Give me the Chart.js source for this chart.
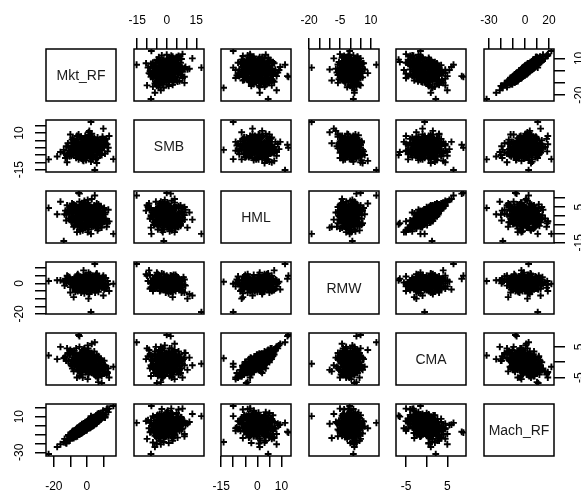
<!DOCTYPE html>
<html>
<head>
<meta charset="utf-8">
<script src="https://cdn.jsdelivr.net/npm/chart.js@4.4.0/dist/chart.umd.min.js"></script>
<style>
html, body { margin: 0; padding: 0; background: #fff; overflow: hidden; }
#wrap { position: relative; width: 581px; height: 493px; }
canvas { position: absolute; }
</style>
</head>
<body>
<div id="wrap"></div>
<script>
// variable names, in pairs() order
const varNames = ['Mkt_RF', 'SMB', 'HML', 'RMW', 'CMA', 'Mach_RF'];

// monthly returns (%), one entry per observation, same order in every array
const mktRF = [
    0.5, -2.1, 3.4, 1.8, -4.6, 5.2, -0.9, 2.7, -6.3, 4.1,
    -1.5, 0.2, 7.4, -3.3, 2.2, -8.1, 1.1, -0.4, 6.0, -5.4,
    3.0, -2.8, 0.9, 4.8, -1.2, 8.6, -7.0, 2.5, -3.9, 0.0,
    5.7, -0.7, 1.5, -9.5, 3.7, -2.4, 0.7, 6.9, -4.2, 2.0,
    -1.8, 9.8, -6.7, 1.3, -0.1, 4.4, -3.0, 0.4, -11.2, 3.2,
    -1.0, 7.9, -5.0, 2.9, 0.6, -2.6, 5.0, -0.3, 1.7, -8.8,
    3.9, -1.6, 0.1, 11.0, -3.6, 2.4, -0.6, 6.4, -4.9, 1.0,
    -2.0, 4.6, -7.6, 0.3, 2.1, -1.4, 8.2, -5.8, 3.5, -0.8,
    1.9, -2.3, 5.5, -10.3, 0.8, -3.1, 2.6, -0.2, 4.0, -6.0,
    1.4, -1.9, 7.1, -4.4, 0.9, 3.3, -2.9, 1.6, -12.4, 5.9,
    -0.5, 2.3, -1.1, 9.1, -3.8, 0.0, 3.6, -5.2, 1.2, -0.9,
    6.6, -2.2, 4.3, -7.3, 0.5, 2.8, -1.3, 12.3, -9.0, 1.0,
    -23.2, 16.1, 2.5, 4.8, -14.0, 9.0, 7.0, -5.0, -4.5, -18.0,
    -13.0, 12.0, 13.5, -10.0, 10.0, -16.0, 1.0, -2.0, 3.0, -6.0,
    11.0, -8.0, 6.0, 1.5, -12.0,
    7.5, -9.0, 4.0, -3.5, 10.5, -6.5, 1.5, 0.8, -11.5, 5.5,
    -2.5, 8.5, -7.5, 3.0, -0.5, 12.5, -4.5, 6.5, -8.5, 2.0,
    -1.5, 9.5, -5.5, 0.5, -13.5, 4.5, -2.0, 7.0, -6.0, 1.0,
    -10.0, 11.5, -3.0, 5.0, -0.8, 3.5, -7.0, 8.0, -4.0, 2.5,
    -1.0, 6.0, -9.5, 0.0, 4.0, -5.0, 9.0, -2.0, 1.5, -8.0,
    5.5, -3.0, 13.0, -6.0, 2.0, -1.5, 7.5, -11.0, 3.0, -4.5,
    0.5, 6.0, -7.0, 10.0, -2.5, 4.5, -5.5, 1.0, -9.0, 7.0,
    -3.5, 3.5, -1.0, 8.0, -6.5, 2.5, -4.0, 5.0, -12.5, 0.0,
    4.0, -8.5, 6.5, -2.0, 1.5, 9.5, -5.0, 3.0, -3.0, 6.0,
    -7.5, 0.5, 11.0, -4.5, 2.0, -10.5, 5.0, -1.5, 7.5, -5.5,
    3.5, -0.5, 8.5, -8.0, 1.0, -3.5, 5.5, -6.0, 4.5, -2.5,
    10.0, -4.0, 0.0, 6.5, -9.5, 2.5, -1.0, 7.0, -5.5, 3.0
];
const smb = [
    1.2, -1.4, 2.6, -0.5, -2.7, 0.8, 3.1, -2.2, -0.8, 3.9,
    -3.6, 0.1, 2.1, 1.6, 4.8, -3.0, -1.9, 0.6, 5.3, -1.1,
    0.4, -4.7, 2.0, 1.5, -0.2, 3.4, 0.9, -3.1, 2.8, -1.0,
    -1.6, 6.2, 1.0, -4.2, 0.0, 0.3, -4.0, 4.4, -0.6, 2.4,
    1.8, 0.5, -5.3, 0.2, -2.5, 6.0, -0.4, 3.7, -2.0, -0.9,
    1.3, -0.3, 4.0, -5.5, 0.7, -2.9, 2.9, -1.3, 5.6, -1.5,
    1.9, -6.1, 2.3, 4.9, -2.3, 0.9, -0.7, -2.6, 2.5, -3.4,
    0.0, 3.0, -3.8, 1.4, -1.7, 4.5, 1.1, -1.8, -4.4, 0.4,
    3.3, -0.1, 0.3, -3.3, -2.1, 1.0, 7.2, -0.5, -2.8, 1.7,
    0.8, -3.9, 2.7, 0.2, -0.8, 4.2, -1.2, -4.8, -5.0, 1.6,
    2.2, -0.6, 0.5, 5.8, -2.4, 1.5, -1.4, -4.6, 3.6, -2.0,
    0.6, 3.4, -0.2, -0.7, -1.1, 2.0, 0.9, 2.3, 1.2, 0.1,
    -8.0, -7.8, 17.6, -15.3, -1.5, -5.0, -3.0, 0.0, 2.0, -6.0,
    -7.0, 6.0, 8.0, 9.0, 13.0, -3.0, 10.5, -9.0, 4.0, -2.0,
    -4.0, 3.0, -10.5, 11.5, -10.0,
    -3.0, 5.5, -6.5, 7.0, 1.5, -7.0, 8.5, -2.0, 3.0, -8.0,
    4.5, 5.0, 0.5, 9.5, -8.5, -2.5, -5.5, 2.5, 6.5, -4.5,
    1.0, 7.5, -3.5, 6.0, -4.0, 3.5, -6.0, -1.0, 8.0, -1.5,
    -2.5, 3.0, -7.5, 5.5, -3.0, 2.0, 4.0, -5.0, 1.5, -9.5,
    5.0, 0.5, -5.5, 3.0, -3.5, 9.0, -1.5, -4.0, 6.5, -1.0,
    4.5, -2.0, 0.0, 3.5, -7.0, 2.5, -3.5, 0.0, 7.5, -6.5,
    4.0, -2.5, 2.0, 6.0, -8.5, 1.0, 5.5, -5.0, -3.5, 3.0,
    0.5, -6.0, 8.0, -4.5, 1.5, 5.0, -3.0, 2.0, 1.0, -6.5,
    4.5, -4.5, 7.0, 3.5, -3.5, 0.5, -8.0, 2.5, 6.0, -5.5,
    2.5, -1.0, 5.5, -4.5, 9.0, -6.0, -0.5, 4.0, 4.0, -1.5,
    -8.0, 1.5, -2.0, 5.0, -4.0, 7.5, -1.5, -5.0, 6.5, -2.5,
    2.0, 0.0, 7.0, -7.0, 3.5, -1.0, -5.5, 1.5, 0.5, 3.0
];
const hml = [
    -0.8, 2.3, -1.9, 0.7, 1.1, -3.2, 0.4, 2.9, -1.5, 1.2,
    -2.4, 3.8, -0.6, -3.7, -1.1, 2.0, -0.3, 1.7, -2.1, 4.6,
    0.1, 0.9, -4.4, 2.4, -1.0, -4.0, 0.2, -2.7, 3.3, 0.5,
    1.0, -2.0, 5.2, -0.4, -0.9, -5.1, 1.4, 0.3, -1.3, 2.1,
    0.0, -1.4, 3.0, -2.9, 2.6, -0.2, 1.8, -1.7, 2.7, 0.6,
    -3.4, -2.5, 0.8, 1.6, 6.3, -1.8, 1.5, -0.6, 0.9, -2.2,
    -5.8, 0.4, 1.9, -3.0, 5.5, -1.5, 3.1, -0.7, -2.6, -4.1,
    1.0, -0.1, 4.1, -2.3, 3.5, 0.6, 0.8, -0.5, -1.2, -6.2,
    4.3, -0.8, 2.8, 1.3, -3.0, 2.2, -2.6, 0.2, -3.9, 1.9,
    -0.4, 4.9, -1.6, -0.2, 1.1, 0.5, -4.6, 2.5, 0.7, -3.5,
    2.0, -0.5, -1.9, -0.9, 3.7, -1.2, 1.3, -2.8, 3.0, -2.1,
    1.7, -0.7, -2.2, 5.9, 0.8, -4.8, 1.5, -2.9, -1.0, 0.3,
    4.5, -10.0, -10.0, 11.5, -14.0, -4.6, -4.0, 12.9, 12.5, 1.0,
    3.0, -6.0, -3.0, 5.0, -2.0, 8.0, -6.5, 7.0, 9.5, -9.0,
    2.0, -6.0, 3.0, 2.0, 6.0,
    2.5, -3.5, -5.0, 6.0, 4.5, -2.0, 1.0, 7.5, 3.5, -6.5,
    -7.0, 5.0, -5.5, 3.5, -1.5, -4.0, 8.0, -8.0, 1.5, 4.0,
    -6.0, 2.0, -4.5, 5.5, 1.0, -2.5, 3.0, 6.5, -1.0, -7.5,
    4.5, -1.5, 2.0, -5.5, 6.5, 3.0, -3.0, 1.5, -8.5, 5.0,
    -4.0, 7.0, -3.0, 2.5, -3.5, 0.5, -6.5, 5.5, -3.0, 6.5,
    0.5, -6.5, 3.5, 3.0, -1.0, 8.5, -3.5, -1.5, 4.0, -5.0,
    -9.0, 4.5, 0.0, -3.0, 3.5, 6.0, -6.0, 1.0, 7.0, -2.0,
    4.0, -4.5, 2.5, -5.5, 5.5, -1.0, 0.0, 3.0, -2.5, -3.5,
    5.0, 2.5, -4.5, -5.0, 6.0, 0.5, -0.5, -6.0, 4.5, 2.5,
    -3.5, 9.0, 1.0, -7.5, -2.0, 3.0, -4.0, 7.5, 4.5, -4.0,
    0.5, -4.5, 5.5, 0.0, -5.5, 2.0, 3.5, -2.5, 1.5, -8.0,
    3.0, 6.5, -5.5, 0.0, 5.0, -2.5, 4.0, -7.0, 2.0, 0.0
];
const rmw = [
    0.3, 1.0, -1.2, 0.9, 1.8, -0.7, -1.6, 1.7, 0.2, -2.3,
    1.4, 0.8, -1.0, -1.1, -2.9, 2.2, 0.6, -0.2, -2.0, 1.2,
    -0.5, 2.6, -1.9, -0.1, 0.0, -1.5, -0.8, 1.1, -0.6, 1.9,
    0.5, -3.5, 1.3, 1.6, -1.4, -0.3, 2.0, -2.6, 0.7, -1.3,
    -0.4, 0.4, 2.9, -0.9, 1.5, -3.0, -1.8, -2.2, 0.9, 0.1,
    -0.7, 0.8, -2.4, 3.3, 0.9, 0.4, -1.7, 1.0, -2.8, 0.3,
    -1.6, 2.7, -1.0, -2.1, 1.4, 0.2, 0.5, 1.8, -1.2, 1.2,
    0.3, -0.9, 1.1, -1.3, 2.4, -2.5, -0.2, 1.3, 2.1, -0.5,
    -1.9, -1.5, 0.6, 2.5, 0.1, -0.1, -3.9, 0.7, 1.6, -1.4,
    -0.6, 2.3, -1.1, 0.6, -2.0, -1.7, -0.2, 3.0, 1.9, -0.4,
    -1.2, 1.4, -0.8, -2.7, 0.2, 0.4, -0.3, 1.7, -1.6, 0.9,
    -0.3, -2.3, 0.5, 2.0, -0.1, -1.3, 1.1, -1.0, -0.9, 0.2,
    1.5, -0.3, -18.8, 12.7, 1.0, 2.0, 3.0, 5.0, 3.0, 2.0,
    3.0, -3.0, -5.0, -6.0, -8.0, 2.0, -10.0, 8.5, -4.0, -2.0,
    3.5, -9.0, 6.0, -7.0, 5.0,
    3.8, 1.0, -2.5, 2.0, -4.0, -4.5, 4.0, -3.5, 4.5, 0.5,
    -5.0, 2.5, 3.5, -1.5, 5.5, 1.5, -2.0, 4.5, -3.0, 6.0,
    -6.5, -2.5, 4.0, 3.0, -1.5, -4.5, -3.0, 3.0, 1.5, 2.0,
    -2.5, 3.5, 1.0, -3.5, -1.0, 5.0, -4.0, -1.0, 2.5, 1.5,
    4.5, -4.5, 0.5, -5.5, 4.0, -1.0, -2.0, 3.5, 1.0, -2.5,
    5.5, -4.0, -0.5, 5.0, -5.0, 0.0, -3.5, 3.0, 2.5, -1.5,
    0.5, 6.5, -5.5, 0.0, -3.5, -2.5, 2.0, 7.0, 1.0, -5.5,
    4.0, -1.5, -4.0, 2.0, -2.0, 3.5, -4.5, 1.5, 0.0, 3.0,
    -3.0, 2.5, -1.0, 5.5, -5.0, 4.0, 1.5, -2.0, -3.5, 2.5,
    -1.5, 1.0, -3.5, 0.0, 2.5, 4.0, -6.0, 2.5, 0.0, 6.0,
    -2.5, -2.5, 1.0, 2.0, 4.5, -6.0, 4.5, -3.0, 0.5, -0.5,
    5.0, -4.5, 0.0, 1.0, 1.5, -4.0, 5.0, -1.0, -5.0, 3.0
];
const cma = [
    0.8, -0.3, 0.6, -1.5, 1.9, -0.6, -1.6, 2.6, -1.3, 2.1,
    -2.3, 1.1, 0.5, -3.1, 1.2, -0.2, -1.8, 2.5, -2.8, 0.6,
    1.0, -0.9, -0.5, -1.2, -1.3, -1.5, 2.4, -2.7, 2.9, -1.9,
    1.6, 0.6, 0.7, -1.0, -2.4, 0.1, -1.3, 1.4, -1.7, 2.2,
    1.4, -3.1, 0.4, -2.8, -1.0, 1.8, 2.7, -2.5, 0.3, -2.2,
    1.0, -3.0, 2.3, -1.5, 2.0, 0.9, -2.0, 1.9, 1.2, -2.1,
    -1.4, -1.4, 2.7, -1.0, 1.2, 1.0, 2.6, -2.5, 1.3, -3.3,
    -1.8, 1.6, 3.7, 0.9, -0.6, -1.3, 1.0, -1.6, -2.4, -1.1,
    3.0, 1.7, -1.6, 2.6, -2.7, -0.6, 0.5, -1.8, -0.7, -0.9,
    1.9, 1.0, -2.6, 2.5, -1.6, 1.7, -3.2, -1.2, 0.5, 0.1,
    -1.2, 1.7, -2.4, 0.6, 0.2, 1.9, -2.2, 1.5, 2.9, -3.2,
    1.5, -1.9, -2.5, 1.0, 2.8, -0.6, -1.8, -3.2, -1.3, 2.2,
    2.2, -1.5, -0.5, 6.5, 1.3, -6.8, -6.5, 8.9, 8.5, 1.0,
    2.0, -4.0, -5.0, 3.0, -1.0, 5.0, -2.5, 4.0, 6.0, -5.0,
    -3.5, -3.0, 1.0, 1.5, 4.5,
    -0.5, 0.8, -3.5, 1.5, 0.5, -0.5, 1.0, 4.5, 3.0, -4.5,
    -2.5, 0.0, -1.0, 3.0, -2.0, -3.5, 5.0, -5.0, 2.5, 1.5,
    -1.5, -2.0, -2.5, 3.5, 1.5, -4.0, 3.5, 2.0, -0.5, -4.0,
    4.0, -1.5, 0.5, -3.0, 2.5, 0.0, 0.0, -3.0, -3.5, 2.0,
    -1.0, 2.5, -0.5, 1.5, -1.5, 1.5, -4.5, 4.0, -2.5, 3.0,
    -1.0, -4.0, -2.0, 2.0, 0.5, 4.5, -2.5, 0.5, 0.5, -1.5,
    -5.5, 1.0, 1.0, -3.0, 2.5, 3.5, -3.0, -1.5, 3.5, -2.5,
    1.0, -2.0, 0.5, -4.0, 4.5, -0.5, 0.0, -0.5, 0.5, -2.0,
    2.0, 1.5, -3.5, -2.0, 3.0, -2.5, -1.0, -3.5, 2.5, -0.5,
    -1.5, 5.5, -1.5, -4.5, -1.0, 2.5, -2.0, 4.0, 0.5, -2.5,
    1.0, -3.0, 1.0, 0.5, -2.5, 1.0, 1.5, -0.5, -0.5, -5.0,
    -1.0, 3.0, -2.0, -2.0, 3.5, -1.5, 2.0, -4.5, 2.0, 0.0
];
const machRF = [
    3.7, -6.2, 6.4, -1.7, -1.5, 4.3, 3.8, 7.0, -11.2, 0.8,
    -4.0, 4.3, 12.6, -8.3, 3.9, -7.0, -1.6, -5.0, 3.8, -5.0,
    8.4, -1.1, -2.3, 9.2, 1.9, 7.7, -12.1, -1.7, -0.1, -2.5,
    11.4, -3.9, 4.5, -8.4, 1.8, -6.6, 5.4, 4.5, -2.5, -0.4,
    0.2, 16.7, -12.7, 6.2, -4.1, 0.7, -6.4, 3.5, -10.6, 7.7,
    -5.3, 12.3, -10.0, -1.2, 5.3, 0.6, 3.5, -3.9, 7.2, -8.4,
    8.6, -6.6, 3.6, 9.3, -8.7, 7.1, -4.8, 12.8, -9.4, -2.2,
    2.4, 2.0, -5.9, -2.6, 6.2, 1.2, 6.7, -12.0, 8.6, 1.5,
    -2.0, -5.5, 10.7, -16.9, 6.0, -8.5, -0.1, 4.2, 1.2, -4.3,
    -2.7, 0.5, 13.7, -9.7, 4.2, -0.2, -0.8, 5.6, -20.1, 3.2,
    -4.7, 7.5, 2.6, 8.8, -0.4, -5.0, 7.7, -9.8, -2.4, 2.3,
    5.1, -6.4, 9.1, -12.5, -2.9, 8.1, -4.7, 19.0, -7.2, 4.8,
    -32.0, 22.0, 10.6, 3.0, -18.5, 11.0, 10.0, -8.0, -7.0, -24.0,
    -19.0, 18.0, 19.0, -12.0, 13.0, -21.0, 2.0, -3.0, 1.0, -6.0,
    9.0, -14.0, 5.0, 4.0, -15.0,
    6.0, -13.5, 9.0, -1.0, 11.0, -5.0, 5.5, -3.0, -17.0, 3.5,
    -6.0, 14.0, -6.5, 0.5, 3.0, 18.5, -9.5, 5.0, -6.0, -2.5,
    2.5, 9.0, -10.0, 4.0, -15.0, 1.5, -6.5, 11.5, -3.5, 4.5,
    -10.5, 12.5, -1.0, 8.5, -4.5, -0.5, -11.5, 6.5, -2.0, 6.0,
    -5.0, 4.0, -9.0, 3.5, 9.5, -9.5, 8.0, -1.5, -2.5, -13.0,
    2.0, 1.5, 15.0, -3.0, 0.0, 2.0, 13.0, -12.0, 7.0, -1.5,
    -3.0, 4.5, -5.5, 10.0, -7.5, 7.5, -2.5, -1.0, -14.0, 5.5,
    -8.5, 1.0, 1.5, 12.0, -4.0, 0.0, -5.0, 9.0, -19.5, 3.0,
    0.0, -8.0, 9.5, -1.0, -2.0, 14.5, -7.0, 6.5, -3.0, 2.5,
    -12.5, 0.5, 10.0, -3.5, 4.5, -11.5, 3.0, -3.5, 6.0, -9.0,
    5.5, 2.0, 7.0, -6.5, -1.5, -4.5, 8.5, -4.5, 3.0, -4.0,
    11.5, -6.5, 1.0, 10.5, -13.5, 4.0, -0.5, 7.0, -8.0, 2.0
];
const series = [mktRF, smb, hml, rmw, cma, machRF];

// tick marks per variable, and which of them carry a label
const tickValues = [
    [-20, -10, 0, 10],
    [-15, -10, -5, 0, 5, 10, 15],
    [-15, -10, -5, 0, 5, 10],
    [-20, -15, -10, -5, 0, 5, 10],
    [-5, 0, 5],
    [-30, -20, -10, 0, 10, 20]
];
const xAxisLabels = [[-20, 0], [-15, 0, 15], [-15, 0, 10], [-20, -5, 10], [-5, 5], [-30, 0, 20]];
const yAxisLabels = [[10, -20], [10, -15], [5, -15], [0, -20], [5, -5], [10, -30]];

// layout of the grid
const PW = 70, PH = 52, M = 40;
const colX = c => Math.round(46 + c * 87.6);
const rowY = r => 49 + r * 71;
const FONT = '"Liberation Sans", Arial, sans-serif';

// R style: 4% extra room on each side
const lo = series.map(s => { const a = Math.min(...s), b = Math.max(...s); return a - 0.04 * (b - a); });
const hi = series.map(s => { const a = Math.min(...s), b = Math.max(...s); return b + 0.04 * (b - a); });

const boxPlugin = {
    id: 'box',
    afterDraw(chart) {
        const a = chart.chartArea, ctx = chart.ctx;
        ctx.save();
        ctx.strokeStyle = '#000';
        ctx.lineWidth = 1.5;
        ctx.strokeRect(a.left, a.top, a.right - a.left, a.bottom - a.top);
        ctx.restore();
    }
};

// y tick labels are drawn parallel to the axis, like R
const yLabelPlugin = {
    id: 'ylabels',
    afterDraw(chart, args, opts) {
        const ys = chart.scales.y;
        if (!ys.options.display) return;
        const a = chart.chartArea, ctx = chart.ctx;
        const x = ys.position === 'left' ? a.left - 26 : a.right + 26;
        ctx.save();
        ctx.fillStyle = '#000';
        ctx.font = '12px ' + FONT;
        ctx.textAlign = 'center';
        ctx.textBaseline = 'middle';
        opts.labels.forEach(v => {
            ctx.save();
            ctx.translate(x, ys.getPixelForValue(v));
            ctx.rotate(-Math.PI / 2);
            ctx.fillText(String(v), 0, 0);
            ctx.restore();
        });
        ctx.restore();
    }
};

function axisOpts(v, show, pos, dir) {
    return {
        type: 'linear',
        position: pos,
        display: show,
        min: lo[v],
        max: hi[v],
        afterBuildTicks: s => { s.ticks = tickValues[v].map(value => ({ value })); },
        afterFit: s => {
            if (!show) return;
            if (dir === 'x') s.height = M; else s.width = M;
        },
        grid: { display: true, drawOnChartArea: false, drawTicks: true, tickLength: 11, color: '#000', lineWidth: 1.5 },
        border: { display: false },
        ticks: {
            display: dir === 'x',
            autoSkip: false,
            maxRotation: 0,
            minRotation: 0,
            padding: pos === 'top' ? 10 : 12,
            color: '#000',
            font: { family: FONT, size: 12 },
            callback: value => xAxisLabels[v].includes(value) ? String(value) : ''
        }
    };
}

const wrap = document.getElementById('wrap');

for (let r = 0; r < 6; r++) {
    for (let c = 0; c < 6; c++) {
        const cv = document.createElement('canvas');
        wrap.appendChild(cv);
        if (r === c) {
            // diagonal: variable name in a box
            cv.width = PW + 4; cv.height = PH + 4;
            cv.style.left = (colX(c) - 2) + 'px';
            cv.style.top = (rowY(r) - 2) + 'px';
            const ctx = cv.getContext('2d');
            ctx.strokeStyle = '#000';
            ctx.lineWidth = 1.5;
            ctx.strokeRect(2, 2, PW, PH);
            ctx.fillStyle = '#1a1a1a';
            ctx.font = '14px ' + FONT;
            ctx.textAlign = 'center';
            ctx.textBaseline = 'middle';
            ctx.fillText(varNames[r], 2 + PW / 2, 2 + PH / 2 + 1);
            continue;
        }
        const showTop = r === 0 && c % 2 === 1;
        const showBottom = r === 5 && c % 2 === 0;
        const showLeft = c === 0 && r % 2 === 1;
        const showRight = c === 5 && r % 2 === 0;

        cv.width = PW + 2 * M; cv.height = PH + 2 * M;
        cv.style.left = (colX(c) - M) + 'px';
        cv.style.top = (rowY(r) - M) + 'px';

        const xs = series[c], ys = series[r];
        new Chart(cv, {
            type: 'scatter',
            data: {
                datasets: [{
                    data: xs.map((x, i) => ({ x, y: ys[i] })),
                    pointStyle: 'cross',
                    pointRadius: 3.4,
                    borderWidth: 1.9,
                    borderColor: '#000',
                    backgroundColor: '#000'
                }]
            },
            options: {
                responsive: false,
                animation: false,
                devicePixelRatio: 1,
                events: [],
                layout: { padding: { top: showTop ? 0 : M, bottom: showBottom ? 0 : M, left: showLeft ? 0 : M, right: showRight ? 0 : M } },
                plugins: {
                    legend: { display: false },
                    tooltip: { enabled: false },
                    ylabels: { labels: yAxisLabels[r] }
                },
                scales: {
                    x: axisOpts(c, showTop || showBottom, showTop ? 'top' : 'bottom', 'x'),
                    y: axisOpts(r, showLeft || showRight, showLeft ? 'left' : 'right', 'y')
                }
            },
            plugins: [boxPlugin, yLabelPlugin]
        });
    }
}
</script>
</body>
</html>
